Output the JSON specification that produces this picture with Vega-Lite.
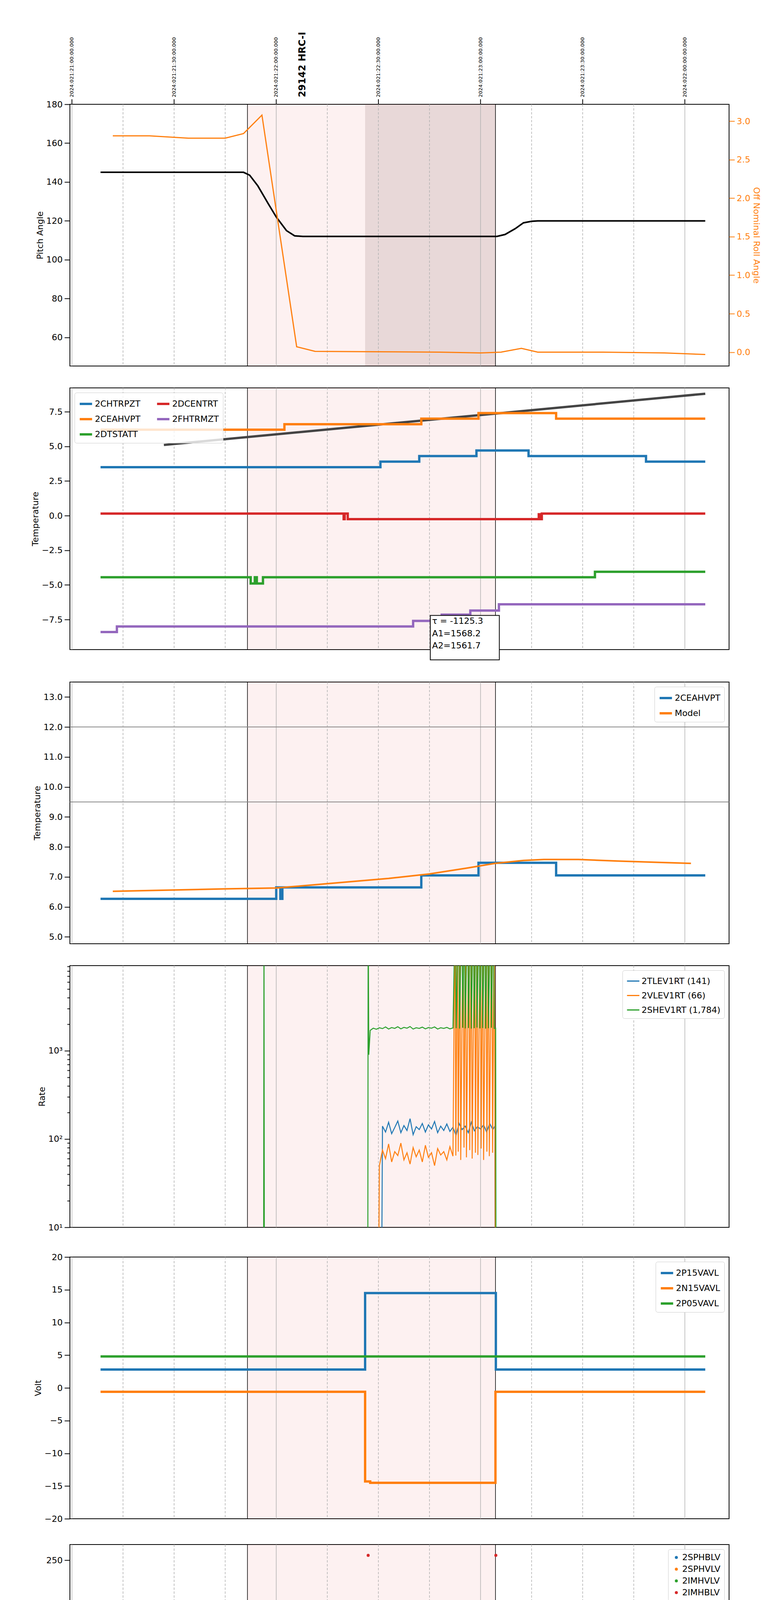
{
"$schema":"https://vega.github.io/schema/vega-lite/v6.json",
"background":"white",
"padding":{"left":78,"top":80,"right":5,"bottom":5},
"spacing":52,
"config":{
 "view":{"stroke":"black","strokeWidth":2},
 "font":"DejaVu Sans",
 "axis":{"labelFont":"DejaVu Sans","labelFontSize":22,"labelColor":"black","tickColor":"black","tickWidth":2,"tickSize":14,"domain":false,"titleFont":"DejaVu Sans","titleFontSize":22,"titleFontWeight":"normal","titleColor":"black","grid":false,"labelPadding":5},
 "legend":{"orient":"top-right","offset":12,"fillColor":"white","strokeColor":"#cccccc","padding":10,"cornerRadius":5,"labelFont":"DejaVu Sans","labelFontSize":22,"symbolType":"stroke","symbolStrokeWidth":6,"symbolSize":1000,"rowPadding":8,"labelLimit":400}
},
"datasets":{
 "shade":[{"a":16.859,"b":18.073}],
 "vl":[{"a":16.859},{"a":18.073}],
 "gray":[{"a":17.435,"b":18.073}],
 "gh":[{"a":16},{"a":17},{"a":18},{"a":19}],
 "gq":[{"a":16.25},{"a":16.5},{"a":16.75},{"a":17.25},{"a":17.5},{"a":17.75},{"a":18.25},{"a":18.5},{"a":18.75}],
 "toplab":[{"t":16,"txt":"2024:021:21:00:00.000"},{"t":16.5,"txt":"2024:021:21:30:00.000"},{"t":17,"txt":"2024:021:22:00:00.000"},{"t":17.5,"txt":"2024:021:22:30:00.000"},{"t":18,"txt":"2024:021:23:00:00.000"},{"t":18.5,"txt":"2024:021:23:30:00.000"},{"t":19,"txt":"2024:022:00:00:00.000"}]
},
"resolve":{"scale":{"y":"independent","color":"independent"},"legend":{"color":"independent"}},
"vconcat":[
{
 "width":1688,"height":670,
 "resolve":{"scale":{"y":"independent"}},
 "layer":[
  {"data":{"name":"shade"},"mark":{"type":"rect","fill":"#e05050","opacity":0.08},
   "encoding":{"x":{"field":"a","type":"quantitative","scale":{"domain":[15.99,19.2165],"nice":false,"zero":false},
     "axis":{"values":[16,17,18,19],"labels":false,"tickSize":16,"title":null}},
    "x2":{"field":"b"}}},
  {"data":{"name":"gray"},"mark":{"type":"rect","fill":"#7a5a5a","opacity":0.16},
   "encoding":{"x":{"field":"a","type":"quantitative","axis":null},"x2":{"field":"b"}}},
  {"data":{"name":"gh"},"mark":{"type":"rule","color":"#b0b0b0","strokeWidth":1.5},"encoding":{"x":{"field":"a","type":"quantitative","axis":null}}},
  {"data":{"name":"gq"},"mark":{"type":"rule","color":"#b0b0b0","strokeWidth":1.5,"strokeDash":[6,4]},"encoding":{"x":{"field":"a","type":"quantitative","axis":null}}},
  {"data":{"name":"vl"},"mark":{"type":"rule","color":"black","strokeWidth":1.5},
   "encoding":{"x":{"field":"a","type":"quantitative","axis":null}}},
  {"layer":[
   {"data":{"values":[
     {"t":16.14,"p":145},{"t":16.84,"p":145},{"t":16.87,"p":143.5},{"t":16.91,"p":138},{"t":16.96,"p":129},{"t":17.0,"p":122},{"t":17.05,"p":115},{"t":17.09,"p":112.3},{"t":17.13,"p":112},{"t":18.08,"p":112},{"t":18.12,"p":113},{"t":18.17,"p":116},{"t":18.21,"p":119},{"t":18.25,"p":119.8},{"t":18.28,"p":120},{"t":19.1,"p":120}]},
    "mark":{"type":"line","color":"black","strokeWidth":4},
    "encoding":{"x":{"field":"t","type":"quantitative","axis":null},
     "y":{"field":"p","type":"quantitative","scale":{"domain":[45.3,180],"nice":false,"zero":false},"axis":{"title":"Pitch Angle","values":[60,80,100,120,140,160,180]}}}},
   {"data":{"name":"toplab"},
    "mark":{"type":"rule","color":"black","strokeWidth":2,"clip":false},
    "encoding":{"x":{"field":"t","type":"quantitative","axis":null},"y":{"datum":180},"y2":{"datum":182.6}}},
   {"data":{"name":"toplab"},
    "mark":{"type":"text","angle":270,"align":"left","baseline":"middle","font":"DejaVu Sans","fontSize":13,"clip":false},
    "encoding":{"x":{"field":"t","type":"quantitative","axis":null},"y":{"datum":183.6},"text":{"field":"txt"}}},
   {"data":{"values":[{"t":17.13,"p":183.6,"txt":"29142 HRC-I"}]},
    "mark":{"type":"text","angle":270,"align":"left","baseline":"middle","font":"DejaVu Sans","fontWeight":"bold","fontSize":24,"clip":false},
    "encoding":{"x":{"field":"t","type":"quantitative","axis":null},"y":{"field":"p","type":"quantitative"},"text":{"field":"txt"}}}
  ]},
  {"data":{"values":[
    {"t":16.2,"r":2.81},{"t":16.38,"r":2.81},{"t":16.57,"r":2.78},{"t":16.75,"r":2.78},{"t":16.84,"r":2.84},{"t":16.93,"r":3.08},{"t":17.1,"r":0.07},{"t":17.19,"r":0.01},{"t":17.5,"r":0.005},{"t":17.8,"r":0.0},{"t":18.0,"r":-0.01},{"t":18.1,"r":0.0},{"t":18.2,"r":0.05},{"t":18.28,"r":0.0},{"t":18.6,"r":0.0},{"t":18.9,"r":-0.01},{"t":19.1,"r":-0.03}]},
   "mark":{"type":"line","color":"#ff7f0e","strokeWidth":3},
   "encoding":{"x":{"field":"t","type":"quantitative","axis":null},
    "y":{"field":"r","type":"quantitative","scale":{"domain":[-0.18,3.22],"nice":false,"zero":false},"axis":{"orient":"right","title":"Off Nominal Roll Angle","titleColor":"#ff7f0e","labelColor":"#ff7f0e","tickColor":"#ff7f0e","values":[0,0.5,1,1.5,2,2.5,3],"format":".1f"}}}}
 ]
},
{
 "width":1688,"height":670,
 "layer":[
  {"data":{"name":"shade"},"mark":{"type":"rect","fill":"#e05050","opacity":0.08},
   "encoding":{"x":{"field":"a","type":"quantitative","scale":{"domain":[15.99,19.2165],"nice":false,"zero":false},
     "axis":{"values":[16,17,18,19],"labels":false,"tickSize":16,"title":null}},
    "x2":{"field":"b"}}},
  {"data":{"name":"gh"},"mark":{"type":"rule","color":"#b0b0b0","strokeWidth":1.5},"encoding":{"x":{"field":"a","type":"quantitative","axis":null}}},
  {"data":{"name":"gq"},"mark":{"type":"rule","color":"#b0b0b0","strokeWidth":1.5,"strokeDash":[6,4]},"encoding":{"x":{"field":"a","type":"quantitative","axis":null}}},
  {"data":{"name":"vl"},"mark":{"type":"rule","color":"black","strokeWidth":1.5},
   "encoding":{"x":{"field":"a","type":"quantitative","axis":null}}},
  {"data":{"values":[{"t":16.45,"v":5.1},{"t":19.1,"v":8.8}]},
   "mark":{"type":"line","color":"#444444","strokeWidth":6},
   "encoding":{"x":{"field":"t","type":"quantitative","axis":null},"y":{"field":"v","type":"quantitative"}}},
  {"data":{"values":[
    {"t":16.14,"v":3.5,"s":"2CHTRPZT"},{"t":17.51,"v":3.9,"s":"2CHTRPZT"},{"t":17.7,"v":4.3,"s":"2CHTRPZT"},{"t":17.98,"v":4.7,"s":"2CHTRPZT"},{"t":18.235,"v":4.3,"s":"2CHTRPZT"},{"t":18.81,"v":3.9,"s":"2CHTRPZT"},{"t":19.1,"v":3.9,"s":"2CHTRPZT"},
    {"t":16.14,"v":6.2,"s":"2CEAHVPT"},{"t":17.04,"v":6.6,"s":"2CEAHVPT"},{"t":17.71,"v":7.0,"s":"2CEAHVPT"},{"t":17.99,"v":7.4,"s":"2CEAHVPT"},{"t":18.37,"v":7.0,"s":"2CEAHVPT"},{"t":19.1,"v":7.0,"s":"2CEAHVPT"},
    {"t":16.14,"v":-4.45,"s":"2DTSTATT"},{"t":16.875,"v":-4.9,"s":"2DTSTATT"},{"t":16.895,"v":-4.45,"s":"2DTSTATT"},{"t":16.905,"v":-4.9,"s":"2DTSTATT"},{"t":16.935,"v":-4.45,"s":"2DTSTATT"},{"t":18.56,"v":-4.05,"s":"2DTSTATT"},{"t":19.1,"v":-4.05,"s":"2DTSTATT"},
    {"t":16.14,"v":0.15,"s":"2DCENTRT"},{"t":17.33,"v":-0.25,"s":"2DCENTRT"},{"t":17.335,"v":0.15,"s":"2DCENTRT"},{"t":17.35,"v":-0.25,"s":"2DCENTRT"},{"t":18.285,"v":0.1,"s":"2DCENTRT"},{"t":18.29,"v":-0.25,"s":"2DCENTRT"},{"t":18.3,"v":0.15,"s":"2DCENTRT"},{"t":19.1,"v":0.15,"s":"2DCENTRT"},
    {"t":16.14,"v":-8.4,"s":"2FHTRMZT"},{"t":16.22,"v":-8.0,"s":"2FHTRMZT"},{"t":17.67,"v":-7.6,"s":"2FHTRMZT"},{"t":17.81,"v":-7.15,"s":"2FHTRMZT"},{"t":17.95,"v":-6.85,"s":"2FHTRMZT"},{"t":18.09,"v":-6.4,"s":"2FHTRMZT"},{"t":19.1,"v":-6.4,"s":"2FHTRMZT"}]},
   "mark":{"type":"line","interpolate":"step-after","strokeWidth":6},
   "encoding":{"x":{"field":"t","type":"quantitative","axis":null},
    "y":{"field":"v","type":"quantitative","scale":{"domain":[-9.67,9.22],"nice":false,"zero":false},"axis":{"title":"Temperature","values":[-7.5,-5,-2.5,0,2.5,5,7.5],"format":".1f"}},
    "color":{"field":"s","type":"nominal","title":null,"scale":{"domain":["2CHTRPZT","2CEAHVPT","2DTSTATT","2DCENTRT","2FHTRMZT"],"range":["#1f77b4","#ff7f0e","#2ca02c","#d62728","#9467bd"]},
     "legend":{"orient":"top-left","columns":2,"columnPadding":30,"fillColor":"rgba(255,255,255,0.8)"}}}},
  {"data":{"values":[{"t":17.754,"t2":18.092,"y":-7.2,"y2":-10.41}]},
   "mark":{"type":"rect","fill":"white","stroke":"black","strokeWidth":2,"clip":false},
   "encoding":{"x":{"field":"t","type":"quantitative","axis":null},"x2":{"field":"t2"},"y":{"field":"y","type":"quantitative"},"y2":{"field":"y2"}}},
  {"data":{"values":[{"t":17.763,"y":-7.62,"txt":"τ = -1125.3"},{"t":17.763,"y":-8.5,"txt":"A1=1568.2"},{"t":17.763,"y":-9.38,"txt":"A2=1561.7"}]},
   "mark":{"type":"text","align":"left","baseline":"middle","fontSize":22,"font":"DejaVu Sans","clip":false},
   "encoding":{"x":{"field":"t","type":"quantitative","axis":null},"y":{"field":"y","type":"quantitative"},"text":{"field":"txt"}}}
 ]
},
{
 "width":1688,"height":670,
 "layer":[
  {"data":{"name":"shade"},"mark":{"type":"rect","fill":"#e05050","opacity":0.08},
   "encoding":{"x":{"field":"a","type":"quantitative","scale":{"domain":[15.99,19.2165],"nice":false,"zero":false},
     "axis":{"values":[16,17,18,19],"labels":false,"tickSize":16,"title":null}},
    "x2":{"field":"b"}}},
  {"data":{"name":"gh"},"mark":{"type":"rule","color":"#b0b0b0","strokeWidth":1.5},"encoding":{"x":{"field":"a","type":"quantitative","axis":null}}},
  {"data":{"name":"gq"},"mark":{"type":"rule","color":"#b0b0b0","strokeWidth":1.5,"strokeDash":[6,4]},"encoding":{"x":{"field":"a","type":"quantitative","axis":null}}},
  {"data":{"name":"vl"},"mark":{"type":"rule","color":"black","strokeWidth":1.5},
   "encoding":{"x":{"field":"a","type":"quantitative","axis":null}}},
  {"data":{"values":[{"h":12,"c":"a"},{"h":9.5,"c":"b"}]},"mark":{"type":"rule","color":"#888888","strokeWidth":2},
   "encoding":{"y":{"field":"h","type":"quantitative"}}},
  {"data":{"values":[
    {"t":16.14,"v":6.27,"s":"2CEAHVPT"},{"t":17.0,"v":6.65,"s":"2CEAHVPT"},{"t":17.02,"v":6.27,"s":"2CEAHVPT"},{"t":17.03,"v":6.65,"s":"2CEAHVPT"},{"t":17.71,"v":7.05,"s":"2CEAHVPT"},{"t":17.99,"v":7.47,"s":"2CEAHVPT"},{"t":18.37,"v":7.05,"s":"2CEAHVPT"},{"t":19.1,"v":7.05,"s":"2CEAHVPT"}]},
   "mark":{"type":"line","interpolate":"step-after","strokeWidth":6},
   "encoding":{"x":{"field":"t","type":"quantitative","axis":null},
    "y":{"field":"v","type":"quantitative","scale":{"domain":[4.77,13.5],"nice":false,"zero":false},"axis":{"title":"Temperature","values":[5,6,7,8,9,10,11,12,13]}},
    "color":{"field":"s","type":"nominal","title":null,"scale":{"domain":["2CEAHVPT","Model"],"range":["#1f77b4","#ff7f0e"]}}}},
  {"data":{"values":[
    {"t":16.2,"v":6.52,"s":"Model"},{"t":16.75,"v":6.6,"s":"Model"},{"t":17.0,"v":6.63,"s":"Model"},{"t":17.21,"v":6.75,"s":"Model"},{"t":17.55,"v":6.95,"s":"Model"},{"t":17.75,"v":7.1,"s":"Model"},{"t":17.94,"v":7.3,"s":"Model"},{"t":18.07,"v":7.45,"s":"Model"},{"t":18.21,"v":7.55,"s":"Model"},{"t":18.31,"v":7.58,"s":"Model"},{"t":18.48,"v":7.58,"s":"Model"},{"t":18.67,"v":7.53,"s":"Model"},{"t":18.89,"v":7.48,"s":"Model"},{"t":19.03,"v":7.45,"s":"Model"}]},
   "mark":{"type":"line","strokeWidth":4},
   "encoding":{"x":{"field":"t","type":"quantitative","axis":null},"y":{"field":"v","type":"quantitative"},
    "color":{"field":"s","type":"nominal","title":null}}}
 ]
},
{
 "width":1688,"height":670,
 "layer":[
  {"data":{"name":"shade"},"mark":{"type":"rect","fill":"#e05050","opacity":0.08},
   "encoding":{"x":{"field":"a","type":"quantitative","scale":{"domain":[15.99,19.2165],"nice":false,"zero":false},
     "axis":{"values":[16,17,18,19],"labels":false,"tickSize":16,"title":null}},
    "x2":{"field":"b"}}},
  {"data":{"name":"gh"},"mark":{"type":"rule","color":"#b0b0b0","strokeWidth":1.5},"encoding":{"x":{"field":"a","type":"quantitative","axis":null}}},
  {"data":{"name":"gq"},"mark":{"type":"rule","color":"#b0b0b0","strokeWidth":1.5,"strokeDash":[6,4]},"encoding":{"x":{"field":"a","type":"quantitative","axis":null}}},
  {"data":{"name":"vl"},"mark":{"type":"rule","color":"black","strokeWidth":1.5},
   "encoding":{"x":{"field":"a","type":"quantitative","axis":null}}},
  {"data":{"values":[
    {"t":17.515,"v":1,"s":"2TLEV1RT (141)"},{"t":17.52,"v":140,"s":"2TLEV1RT (141)"},{"t":17.535,"v":120,"s":"2TLEV1RT (141)"},{"t":17.55,"v":155,"s":"2TLEV1RT (141)"},{"t":17.565,"v":115,"s":"2TLEV1RT (141)"},{"t":17.58,"v":135,"s":"2TLEV1RT (141)"},{"t":17.595,"v":160,"s":"2TLEV1RT (141)"},{"t":17.61,"v":118,"s":"2TLEV1RT (141)"},{"t":17.625,"v":142,"s":"2TLEV1RT (141)"},{"t":17.64,"v":125,"s":"2TLEV1RT (141)"},{"t":17.655,"v":170,"s":"2TLEV1RT (141)"},{"t":17.67,"v":112,"s":"2TLEV1RT (141)"},{"t":17.685,"v":138,"s":"2TLEV1RT (141)"},{"t":17.7,"v":128,"s":"2TLEV1RT (141)"},{"t":17.715,"v":150,"s":"2TLEV1RT (141)"},{"t":17.73,"v":120,"s":"2TLEV1RT (141)"},{"t":17.745,"v":145,"s":"2TLEV1RT (141)"},{"t":17.76,"v":130,"s":"2TLEV1RT (141)"},{"t":17.775,"v":158,"s":"2TLEV1RT (141)"},{"t":17.79,"v":118,"s":"2TLEV1RT (141)"},{"t":17.805,"v":140,"s":"2TLEV1RT (141)"},{"t":17.82,"v":125,"s":"2TLEV1RT (141)"},{"t":17.835,"v":148,"s":"2TLEV1RT (141)"},{"t":17.85,"v":122,"s":"2TLEV1RT (141)"},{"t":17.865,"v":136,"s":"2TLEV1RT (141)"},{"t":17.88,"v":110,"s":"2TLEV1RT (141)"},{"t":17.895,"v":150,"s":"2TLEV1RT (141)"},{"t":17.91,"v":128,"s":"2TLEV1RT (141)"},{"t":17.925,"v":140,"s":"2TLEV1RT (141)"},{"t":17.94,"v":118,"s":"2TLEV1RT (141)"},{"t":17.955,"v":155,"s":"2TLEV1RT (141)"},{"t":17.97,"v":124,"s":"2TLEV1RT (141)"},{"t":17.985,"v":138,"s":"2TLEV1RT (141)"},{"t":18.0,"v":130,"s":"2TLEV1RT (141)"},{"t":18.015,"v":145,"s":"2TLEV1RT (141)"},{"t":18.03,"v":120,"s":"2TLEV1RT (141)"},{"t":18.045,"v":150,"s":"2TLEV1RT (141)"},{"t":18.06,"v":128,"s":"2TLEV1RT (141)"},{"t":18.07,"v":140,"s":"2TLEV1RT (141)"},{"t":18.072,"v":1,"s":"2TLEV1RT (141)"},
    {"t":17.5,"v":1,"s":"2VLEV1RT (66)"},{"t":17.505,"v":50,"s":"2VLEV1RT (66)"},{"t":17.52,"v":75,"s":"2VLEV1RT (66)"},{"t":17.535,"v":60,"s":"2VLEV1RT (66)"},{"t":17.55,"v":88,"s":"2VLEV1RT (66)"},{"t":17.565,"v":55,"s":"2VLEV1RT (66)"},{"t":17.58,"v":72,"s":"2VLEV1RT (66)"},{"t":17.595,"v":65,"s":"2VLEV1RT (66)"},{"t":17.61,"v":90,"s":"2VLEV1RT (66)"},{"t":17.625,"v":58,"s":"2VLEV1RT (66)"},{"t":17.64,"v":70,"s":"2VLEV1RT (66)"},{"t":17.655,"v":52,"s":"2VLEV1RT (66)"},{"t":17.67,"v":80,"s":"2VLEV1RT (66)"},{"t":17.685,"v":63,"s":"2VLEV1RT (66)"},{"t":17.7,"v":75,"s":"2VLEV1RT (66)"},{"t":17.715,"v":55,"s":"2VLEV1RT (66)"},{"t":17.73,"v":85,"s":"2VLEV1RT (66)"},{"t":17.745,"v":62,"s":"2VLEV1RT (66)"},{"t":17.76,"v":70,"s":"2VLEV1RT (66)"},{"t":17.775,"v":50,"s":"2VLEV1RT (66)"},{"t":17.79,"v":78,"s":"2VLEV1RT (66)"},{"t":17.805,"v":66,"s":"2VLEV1RT (66)"},{"t":17.82,"v":72,"s":"2VLEV1RT (66)"},{"t":17.835,"v":58,"s":"2VLEV1RT (66)"},{"t":17.85,"v":82,"s":"2VLEV1RT (66)"},{"t":17.865,"v":64,"s":"2VLEV1RT (66)"},{"t":17.875,"v":50000,"s":"2VLEV1RT (66)"},{"t":17.879,"v":65,"s":"2VLEV1RT (66)"},{"t":17.887,"v":50000,"s":"2VLEV1RT (66)"},{"t":17.891,"v":72,"s":"2VLEV1RT (66)"},{"t":17.899,"v":50000,"s":"2VLEV1RT (66)"},{"t":17.903,"v":58,"s":"2VLEV1RT (66)"},{"t":17.915,"v":50000,"s":"2VLEV1RT (66)"},{"t":17.919,"v":80,"s":"2VLEV1RT (66)"},{"t":17.927,"v":50000,"s":"2VLEV1RT (66)"},{"t":17.931,"v":62,"s":"2VLEV1RT (66)"},{"t":17.943,"v":50000,"s":"2VLEV1RT (66)"},{"t":17.947,"v":75,"s":"2VLEV1RT (66)"},{"t":17.955,"v":50000,"s":"2VLEV1RT (66)"},{"t":17.959,"v":60,"s":"2VLEV1RT (66)"},{"t":17.971,"v":50000,"s":"2VLEV1RT (66)"},{"t":17.975,"v":70,"s":"2VLEV1RT (66)"},{"t":17.983,"v":50000,"s":"2VLEV1RT (66)"},{"t":17.987,"v":66,"s":"2VLEV1RT (66)"},{"t":17.999,"v":50000,"s":"2VLEV1RT (66)"},{"t":18.003,"v":78,"s":"2VLEV1RT (66)"},{"t":18.011,"v":50000,"s":"2VLEV1RT (66)"},{"t":18.015,"v":58,"s":"2VLEV1RT (66)"},{"t":18.027,"v":50000,"s":"2VLEV1RT (66)"},{"t":18.031,"v":72,"s":"2VLEV1RT (66)"},{"t":18.039,"v":50000,"s":"2VLEV1RT (66)"},{"t":18.043,"v":64,"s":"2VLEV1RT (66)"},{"t":18.055,"v":50000,"s":"2VLEV1RT (66)"},{"t":18.059,"v":70,"s":"2VLEV1RT (66)"},{"t":18.067,"v":50000,"s":"2VLEV1RT (66)"},{"t":18.071,"v":60,"s":"2VLEV1RT (66)"},{"t":18.073,"v":1,"s":"2VLEV1RT (66)"},
    {"t":16.938,"v":1,"s":"2SHEV1RT (1,784)"},{"t":16.94,"v":50000,"s":"2SHEV1RT (1,784)"},{"t":16.942,"v":1,"s":"2SHEV1RT (1,784)"},{"t":17.448,"v":1,"s":"2SHEV1RT (1,784)"},{"t":17.45,"v":50000,"s":"2SHEV1RT (1,784)"},{"t":17.453,"v":900,"s":"2SHEV1RT (1,784)"},{"t":17.46,"v":1700,"s":"2SHEV1RT (1,784)"},{"t":17.475,"v":1800,"s":"2SHEV1RT (1,784)"},{"t":17.49,"v":1750,"s":"2SHEV1RT (1,784)"},{"t":17.505,"v":1820,"s":"2SHEV1RT (1,784)"},{"t":17.52,"v":1780,"s":"2SHEV1RT (1,784)"},{"t":17.535,"v":1860,"s":"2SHEV1RT (1,784)"},{"t":17.55,"v":1760,"s":"2SHEV1RT (1,784)"},{"t":17.565,"v":1830,"s":"2SHEV1RT (1,784)"},{"t":17.58,"v":1790,"s":"2SHEV1RT (1,784)"},{"t":17.595,"v":1870,"s":"2SHEV1RT (1,784)"},{"t":17.61,"v":1770,"s":"2SHEV1RT (1,784)"},{"t":17.625,"v":1840,"s":"2SHEV1RT (1,784)"},{"t":17.64,"v":1800,"s":"2SHEV1RT (1,784)"},{"t":17.655,"v":1880,"s":"2SHEV1RT (1,784)"},{"t":17.67,"v":1760,"s":"2SHEV1RT (1,784)"},{"t":17.685,"v":1820,"s":"2SHEV1RT (1,784)"},{"t":17.7,"v":1790,"s":"2SHEV1RT (1,784)"},{"t":17.715,"v":1850,"s":"2SHEV1RT (1,784)"},{"t":17.73,"v":1770,"s":"2SHEV1RT (1,784)"},{"t":17.745,"v":1830,"s":"2SHEV1RT (1,784)"},{"t":17.76,"v":1800,"s":"2SHEV1RT (1,784)"},{"t":17.775,"v":1860,"s":"2SHEV1RT (1,784)"},{"t":17.79,"v":1760,"s":"2SHEV1RT (1,784)"},{"t":17.805,"v":1820,"s":"2SHEV1RT (1,784)"},{"t":17.82,"v":1790,"s":"2SHEV1RT (1,784)"},{"t":17.835,"v":1840,"s":"2SHEV1RT (1,784)"},{"t":17.85,"v":1770,"s":"2SHEV1RT (1,784)"},{"t":17.865,"v":1810,"s":"2SHEV1RT (1,784)"},{"t":17.877,"v":50000,"s":"2SHEV1RT (1,784)"},{"t":17.881,"v":1800,"s":"2SHEV1RT (1,784)"},{"t":17.893,"v":50000,"s":"2SHEV1RT (1,784)"},{"t":17.897,"v":1780,"s":"2SHEV1RT (1,784)"},{"t":17.909,"v":50000,"s":"2SHEV1RT (1,784)"},{"t":17.913,"v":1820,"s":"2SHEV1RT (1,784)"},{"t":17.921,"v":50000,"s":"2SHEV1RT (1,784)"},{"t":17.925,"v":1790,"s":"2SHEV1RT (1,784)"},{"t":17.937,"v":50000,"s":"2SHEV1RT (1,784)"},{"t":17.941,"v":1810,"s":"2SHEV1RT (1,784)"},{"t":17.951,"v":50000,"s":"2SHEV1RT (1,784)"},{"t":17.955,"v":1780,"s":"2SHEV1RT (1,784)"},{"t":17.965,"v":50000,"s":"2SHEV1RT (1,784)"},{"t":17.969,"v":1800,"s":"2SHEV1RT (1,784)"},{"t":17.979,"v":50000,"s":"2SHEV1RT (1,784)"},{"t":17.983,"v":1830,"s":"2SHEV1RT (1,784)"},{"t":17.993,"v":50000,"s":"2SHEV1RT (1,784)"},{"t":17.997,"v":1790,"s":"2SHEV1RT (1,784)"},{"t":18.007,"v":50000,"s":"2SHEV1RT (1,784)"},{"t":18.011,"v":1810,"s":"2SHEV1RT (1,784)"},{"t":18.021,"v":50000,"s":"2SHEV1RT (1,784)"},{"t":18.025,"v":1780,"s":"2SHEV1RT (1,784)"},{"t":18.035,"v":50000,"s":"2SHEV1RT (1,784)"},{"t":18.039,"v":1800,"s":"2SHEV1RT (1,784)"},{"t":18.049,"v":50000,"s":"2SHEV1RT (1,784)"},{"t":18.053,"v":1820,"s":"2SHEV1RT (1,784)"},{"t":18.063,"v":50000,"s":"2SHEV1RT (1,784)"},{"t":18.067,"v":1790,"s":"2SHEV1RT (1,784)"},{"t":18.074,"v":1800,"s":"2SHEV1RT (1,784)"},{"t":18.076,"v":1,"s":"2SHEV1RT (1,784)"}]},
   "mark":{"type":"line","strokeWidth":2.5,"clip":true},
   "encoding":{"x":{"field":"t","type":"quantitative","axis":null},
    "y":{"field":"v","type":"quantitative","scale":{"type":"log","domain":[10,9200],"nice":false},"axis":{"title":"Rate","values":[10,20,30,40,50,60,70,80,90,100,200,300,400,500,600,700,800,900,1000,2000,3000,4000,5000,6000,7000,8000,9000],"labelExpr":"datum.value==10?'10¹':datum.value==100?'10²':datum.value==1000?'10³':''","tickSize":{"condition":{"test":"datum.value==10||datum.value==100||datum.value==1000","value":14},"value":7}}},
    "color":{"field":"s","type":"nominal","title":null,"sort":null,"scale":{"domain":["2TLEV1RT (141)","2VLEV1RT (66)","2SHEV1RT (1,784)"],"range":["#1f77b4","#ff7f0e","#2ca02c"]},"legend":{"symbolStrokeWidth":3}}}}
 ]
},
{
 "width":1688,"height":670,
 "layer":[
  {"data":{"name":"shade"},"mark":{"type":"rect","fill":"#e05050","opacity":0.08},
   "encoding":{"x":{"field":"a","type":"quantitative","scale":{"domain":[15.99,19.2165],"nice":false,"zero":false},
     "axis":{"values":[16,17,18,19],"labels":false,"tickSize":16,"title":null}},
    "x2":{"field":"b"}}},
  {"data":{"name":"gh"},"mark":{"type":"rule","color":"#b0b0b0","strokeWidth":1.5},"encoding":{"x":{"field":"a","type":"quantitative","axis":null}}},
  {"data":{"name":"gq"},"mark":{"type":"rule","color":"#b0b0b0","strokeWidth":1.5,"strokeDash":[6,4]},"encoding":{"x":{"field":"a","type":"quantitative","axis":null}}},
  {"data":{"name":"vl"},"mark":{"type":"rule","color":"black","strokeWidth":1.5},
   "encoding":{"x":{"field":"a","type":"quantitative","axis":null}}},
  {"data":{"values":[
    {"t":16.14,"v":2.8,"s":"2P15VAVL"},{"t":17.435,"v":14.5,"s":"2P15VAVL"},{"t":18.075,"v":2.8,"s":"2P15VAVL"},{"t":19.1,"v":2.8,"s":"2P15VAVL"},
    {"t":16.14,"v":-0.6,"s":"2N15VAVL"},{"t":17.435,"v":-14.3,"s":"2N15VAVL"},{"t":17.46,"v":-14.5,"s":"2N15VAVL"},{"t":18.073,"v":-0.6,"s":"2N15VAVL"},{"t":19.1,"v":-0.6,"s":"2N15VAVL"},
    {"t":16.14,"v":4.8,"s":"2P05VAVL"},{"t":19.1,"v":4.8,"s":"2P05VAVL"}]},
   "mark":{"type":"line","interpolate":"step-after","strokeWidth":6},
   "encoding":{"x":{"field":"t","type":"quantitative","axis":null},
    "y":{"field":"v","type":"quantitative","scale":{"domain":[-20,20],"nice":false,"zero":false},"axis":{"title":"Volt","values":[-20,-15,-10,-5,0,5,10,15,20]}},
    "color":{"field":"s","type":"nominal","title":null,"scale":{"domain":["2P15VAVL","2N15VAVL","2P05VAVL"],"range":["#1f77b4","#ff7f0e","#2ca02c"]}}}}
 ]
},
{
 "width":1688,"height":670,
 "layer":[
  {"data":{"name":"shade"},"mark":{"type":"rect","fill":"#e05050","opacity":0.08},
   "encoding":{"x":{"field":"a","type":"quantitative","scale":{"domain":[15.99,19.2165],"nice":false,"zero":false},
     "axis":{"values":[16,17,18,19],"labels":false,"tickSize":16,"title":null}},
    "x2":{"field":"b"}}},
  {"data":{"name":"gh"},"mark":{"type":"rule","color":"#b0b0b0","strokeWidth":1.5},"encoding":{"x":{"field":"a","type":"quantitative","axis":null}}},
  {"data":{"name":"gq"},"mark":{"type":"rule","color":"#b0b0b0","strokeWidth":1.5,"strokeDash":[6,4]},"encoding":{"x":{"field":"a","type":"quantitative","axis":null}}},
  {"data":{"name":"vl"},"mark":{"type":"rule","color":"black","strokeWidth":1.5},
   "encoding":{"x":{"field":"a","type":"quantitative","axis":null}}},
  {"data":{"values":[
    {"t":17.49,"v":79,"s":"2SPHBLV"},{"t":17.8,"v":79,"s":"2SPHBLV"},{"t":17.49,"v":79,"s":"2SPHVLV"},{"t":17.8,"v":79,"s":"2SPHVLV"},
    {"t":17.462,"v":100,"s":"2IMHVLV"},{"t":17.467,"v":96,"s":"2IMHVLV"},{"t":17.472,"v":95,"s":"2IMHVLV"},{"t":17.478,"v":90,"s":"2IMHVLV"},{"t":17.483,"v":86,"s":"2IMHVLV"},{"t":17.488,"v":82,"s":"2IMHVLV"},{"t":17.493,"v":79,"s":"2IMHVLV"},
    {"t":17.50,"v":79,"s":"2IMHVLV"},{"t":17.51,"v":79,"s":"2IMHVLV"},{"t":17.52,"v":79,"s":"2IMHVLV"},{"t":17.53,"v":79,"s":"2IMHVLV"},{"t":17.54,"v":79,"s":"2IMHVLV"},{"t":17.55,"v":79,"s":"2IMHVLV"},{"t":17.56,"v":79,"s":"2IMHVLV"},{"t":17.57,"v":79,"s":"2IMHVLV"},{"t":17.58,"v":79,"s":"2IMHVLV"},{"t":17.59,"v":79,"s":"2IMHVLV"},{"t":17.60,"v":79,"s":"2IMHVLV"},{"t":17.61,"v":79,"s":"2IMHVLV"},{"t":17.62,"v":79,"s":"2IMHVLV"},{"t":17.63,"v":79,"s":"2IMHVLV"},{"t":17.64,"v":79,"s":"2IMHVLV"},{"t":17.65,"v":79,"s":"2IMHVLV"},{"t":17.66,"v":79,"s":"2IMHVLV"},{"t":17.67,"v":79,"s":"2IMHVLV"},{"t":17.68,"v":79,"s":"2IMHVLV"},{"t":17.69,"v":79,"s":"2IMHVLV"},{"t":17.70,"v":79,"s":"2IMHVLV"},{"t":17.71,"v":79,"s":"2IMHVLV"},{"t":17.72,"v":79,"s":"2IMHVLV"},{"t":17.73,"v":79,"s":"2IMHVLV"},{"t":17.74,"v":79,"s":"2IMHVLV"},{"t":17.75,"v":79,"s":"2IMHVLV"},{"t":17.76,"v":79,"s":"2IMHVLV"},{"t":17.77,"v":79,"s":"2IMHVLV"},{"t":17.78,"v":79,"s":"2IMHVLV"},{"t":17.79,"v":79,"s":"2IMHVLV"},{"t":17.80,"v":79,"s":"2IMHVLV"},{"t":17.81,"v":79,"s":"2IMHVLV"},{"t":17.82,"v":79,"s":"2IMHVLV"},{"t":17.83,"v":79,"s":"2IMHVLV"},{"t":17.84,"v":79,"s":"2IMHVLV"},{"t":17.85,"v":79,"s":"2IMHVLV"},{"t":17.86,"v":79,"s":"2IMHVLV"},{"t":17.87,"v":79,"s":"2IMHVLV"},{"t":17.88,"v":79,"s":"2IMHVLV"},{"t":17.883,"v":127,"s":"2IMHVLV"},{"t":17.89,"v":79,"s":"2IMHVLV"},{"t":17.90,"v":79,"s":"2IMHVLV"},{"t":17.91,"v":79,"s":"2IMHVLV"},{"t":17.92,"v":79,"s":"2IMHVLV"},{"t":17.93,"v":79,"s":"2IMHVLV"},{"t":17.94,"v":79,"s":"2IMHVLV"},{"t":17.95,"v":79,"s":"2IMHVLV"},{"t":17.96,"v":79,"s":"2IMHVLV"},{"t":17.97,"v":79,"s":"2IMHVLV"},{"t":17.98,"v":79,"s":"2IMHVLV"},{"t":17.99,"v":79,"s":"2IMHVLV"},{"t":18.00,"v":79,"s":"2IMHVLV"},{"t":18.005,"v":127,"s":"2IMHVLV"},{"t":18.01,"v":79,"s":"2IMHVLV"},{"t":18.02,"v":79,"s":"2IMHVLV"},{"t":18.03,"v":79,"s":"2IMHVLV"},{"t":18.04,"v":79,"s":"2IMHVLV"},{"t":18.05,"v":79,"s":"2IMHVLV"},{"t":18.06,"v":79,"s":"2IMHVLV"},{"t":18.07,"v":79,"s":"2IMHVLV"},
    {"t":17.45,"v":255,"s":"2IMHBLV"},{"t":17.457,"v":127,"s":"2IMHBLV"},{"t":17.458,"v":125,"s":"2IMHBLV"},{"t":17.459,"v":119,"s":"2IMHBLV"},{"t":17.462,"v":105,"s":"2IMHBLV"},{"t":17.466,"v":105,"s":"2IMHBLV"},{"t":17.47,"v":101,"s":"2IMHBLV"},{"t":17.475,"v":101,"s":"2IMHBLV"},{"t":17.48,"v":97,"s":"2IMHBLV"},{"t":17.485,"v":93,"s":"2IMHBLV"},{"t":17.49,"v":89,"s":"2IMHBLV"},{"t":17.495,"v":86,"s":"2IMHBLV"},
    {"t":17.50,"v":86,"s":"2IMHBLV"},{"t":17.51,"v":86,"s":"2IMHBLV"},{"t":17.52,"v":86,"s":"2IMHBLV"},{"t":17.53,"v":86,"s":"2IMHBLV"},{"t":17.54,"v":86,"s":"2IMHBLV"},{"t":17.55,"v":86,"s":"2IMHBLV"},{"t":17.56,"v":86,"s":"2IMHBLV"},{"t":17.57,"v":86,"s":"2IMHBLV"},{"t":17.58,"v":86,"s":"2IMHBLV"},{"t":17.59,"v":86,"s":"2IMHBLV"},{"t":17.60,"v":86,"s":"2IMHBLV"},{"t":17.61,"v":86,"s":"2IMHBLV"},{"t":17.62,"v":86,"s":"2IMHBLV"},{"t":17.63,"v":86,"s":"2IMHBLV"},{"t":17.64,"v":86,"s":"2IMHBLV"},{"t":17.65,"v":86,"s":"2IMHBLV"},{"t":17.66,"v":86,"s":"2IMHBLV"},{"t":17.67,"v":86,"s":"2IMHBLV"},{"t":17.68,"v":86,"s":"2IMHBLV"},{"t":17.69,"v":86,"s":"2IMHBLV"},{"t":17.70,"v":86,"s":"2IMHBLV"},{"t":17.71,"v":86,"s":"2IMHBLV"},{"t":17.72,"v":86,"s":"2IMHBLV"},{"t":17.73,"v":86,"s":"2IMHBLV"},{"t":17.74,"v":86,"s":"2IMHBLV"},{"t":17.75,"v":86,"s":"2IMHBLV"},{"t":17.76,"v":86,"s":"2IMHBLV"},{"t":17.77,"v":86,"s":"2IMHBLV"},{"t":17.78,"v":86,"s":"2IMHBLV"},{"t":17.79,"v":86,"s":"2IMHBLV"},{"t":17.80,"v":86,"s":"2IMHBLV"},{"t":17.81,"v":86,"s":"2IMHBLV"},{"t":17.82,"v":86,"s":"2IMHBLV"},{"t":17.83,"v":86,"s":"2IMHBLV"},{"t":17.84,"v":86,"s":"2IMHBLV"},{"t":17.85,"v":86,"s":"2IMHBLV"},{"t":17.86,"v":86,"s":"2IMHBLV"},{"t":17.87,"v":86,"s":"2IMHBLV"},{"t":17.88,"v":86,"s":"2IMHBLV"},{"t":17.883,"v":79,"s":"2IMHBLV"},{"t":17.89,"v":86,"s":"2IMHBLV"},{"t":17.90,"v":86,"s":"2IMHBLV"},{"t":17.91,"v":86,"s":"2IMHBLV"},{"t":17.92,"v":86,"s":"2IMHBLV"},{"t":17.93,"v":86,"s":"2IMHBLV"},{"t":17.94,"v":86,"s":"2IMHBLV"},{"t":17.95,"v":86,"s":"2IMHBLV"},{"t":17.96,"v":86,"s":"2IMHBLV"},{"t":17.965,"v":79,"s":"2IMHBLV"},{"t":17.97,"v":86,"s":"2IMHBLV"},{"t":17.98,"v":86,"s":"2IMHBLV"},{"t":17.99,"v":86,"s":"2IMHBLV"},{"t":18.00,"v":86,"s":"2IMHBLV"},{"t":18.003,"v":79,"s":"2IMHBLV"},{"t":18.01,"v":86,"s":"2IMHBLV"},{"t":18.02,"v":86,"s":"2IMHBLV"},{"t":18.03,"v":86,"s":"2IMHBLV"},{"t":18.04,"v":86,"s":"2IMHBLV"},{"t":18.05,"v":86,"s":"2IMHBLV"},{"t":18.06,"v":86,"s":"2IMHBLV"},{"t":18.07,"v":86,"s":"2IMHBLV"},{"t":18.075,"v":255,"s":"2IMHBLV"}]},
   "mark":{"type":"point","filled":true,"size":60,"opacity":1},
   "encoding":{"x":{"field":"t","type":"quantitative","axis":null},
    "y":{"field":"v","type":"quantitative","scale":{"domain":[0,266],"nice":false,"zero":false},"axis":{"title":"HV Monitor","values":[0,50,100,150,200,250]}},
    "color":{"field":"s","type":"nominal","title":null,"scale":{"domain":["2SPHBLV","2SPHVLV","2IMHVLV","2IMHBLV"],"range":["#1f77b4","#ff7f0e","#2ca02c","#d62728"]},"legend":{"symbolType":"circle","symbolSize":60,"symbolStrokeWidth":0}}}}
 ]
},
{
 "width":1688,"height":670,
 "layer":[
  {"data":{"name":"shade"},"mark":{"type":"rect","fill":"#e05050","opacity":0.08},
   "encoding":{"x":{"field":"a","type":"quantitative","scale":{"domain":[15.99,19.2165],"nice":false,"zero":false},
     "axis":{"values":[16,17,18,19],"labels":false,"tickSize":16,"title":null}},
    "x2":{"field":"b"}}},
  {"data":{"name":"gh"},"mark":{"type":"rule","color":"#b0b0b0","strokeWidth":1.5},"encoding":{"x":{"field":"a","type":"quantitative","axis":null}}},
  {"data":{"name":"gq"},"mark":{"type":"rule","color":"#b0b0b0","strokeWidth":1.5,"strokeDash":[6,4]},"encoding":{"x":{"field":"a","type":"quantitative","axis":null}}},
  {"data":{"name":"vl"},"mark":{"type":"rule","color":"black","strokeWidth":1.5},
   "encoding":{"x":{"field":"a","type":"quantitative","axis":null}}},
  {"data":{"values":[
    {"t":17.444,"v":-5,"s":"2SPINATM"},{"t":17.445,"v":3.25,"s":"2SPINATM"},{"t":17.878,"v":-5,"s":"2SPINATM"},{"t":17.884,"v":3.25,"s":"2SPINATM"},{"t":17.89,"v":-5,"s":"2SPINATM"},{"t":17.896,"v":3.25,"s":"2SPINATM"},{"t":17.902,"v":-5,"s":"2SPINATM"},{"t":17.908,"v":3.25,"s":"2SPINATM"},{"t":17.914,"v":-5,"s":"2SPINATM"},{"t":17.92,"v":3.25,"s":"2SPINATM"},{"t":17.926,"v":-5,"s":"2SPINATM"},{"t":17.932,"v":3.25,"s":"2SPINATM"},{"t":17.938,"v":-5,"s":"2SPINATM"},{"t":17.944,"v":3.25,"s":"2SPINATM"},{"t":17.95,"v":-5,"s":"2SPINATM"},{"t":17.956,"v":3.25,"s":"2SPINATM"},{"t":17.962,"v":-5,"s":"2SPINATM"},{"t":17.968,"v":3.25,"s":"2SPINATM"},{"t":17.974,"v":-5,"s":"2SPINATM"},{"t":17.98,"v":3.25,"s":"2SPINATM"},{"t":17.986,"v":-5,"s":"2SPINATM"},{"t":17.992,"v":3.25,"s":"2SPINATM"},{"t":17.998,"v":-5,"s":"2SPINATM"},{"t":18.004,"v":3.25,"s":"2SPINATM"},{"t":18.04,"v":-5,"s":"2SPINATM"},{"t":18.046,"v":3.25,"s":"2SPINATM"},{"t":18.07,"v":3.25,"s":"2SPINATM"},
    {"t":17.444,"v":-5,"s":"2SPHVATM"},{"t":17.445,"v":15.5,"s":"2SPHVATM"},{"t":17.878,"v":10.3,"s":"2SPHVATM"},{"t":17.884,"v":15.5,"s":"2SPHVATM"},{"t":17.89,"v":10.5,"s":"2SPHVATM"},{"t":17.896,"v":15.5,"s":"2SPHVATM"},{"t":17.902,"v":10.5,"s":"2SPHVATM"},{"t":17.908,"v":15.5,"s":"2SPHVATM"},{"t":17.914,"v":10.5,"s":"2SPHVATM"},{"t":17.92,"v":15.5,"s":"2SPHVATM"},{"t":17.926,"v":10.5,"s":"2SPHVATM"},{"t":17.932,"v":15.5,"s":"2SPHVATM"},{"t":17.938,"v":10.5,"s":"2SPHVATM"},{"t":17.944,"v":15.5,"s":"2SPHVATM"},{"t":17.95,"v":10.5,"s":"2SPHVATM"},{"t":17.956,"v":15.5,"s":"2SPHVATM"},{"t":17.962,"v":10.5,"s":"2SPHVATM"},{"t":17.968,"v":15.5,"s":"2SPHVATM"},{"t":17.974,"v":10.5,"s":"2SPHVATM"},{"t":17.98,"v":15.5,"s":"2SPHVATM"},{"t":17.986,"v":10.5,"s":"2SPHVATM"},{"t":17.992,"v":15.5,"s":"2SPHVATM"},{"t":17.998,"v":10.5,"s":"2SPHVATM"},{"t":18.004,"v":15.5,"s":"2SPHVATM"},{"t":18.01,"v":10.5,"s":"2SPHVATM"},{"t":18.016,"v":15.5,"s":"2SPHVATM"},{"t":18.022,"v":10.5,"s":"2SPHVATM"},{"t":18.028,"v":15.5,"s":"2SPHVATM"},{"t":18.034,"v":10.5,"s":"2SPHVATM"},{"t":18.04,"v":15.5,"s":"2SPHVATM"},{"t":18.046,"v":10.5,"s":"2SPHVATM"},{"t":18.052,"v":15.6,"s":"2SPHVATM"},{"t":18.07,"v":15.6,"s":"2SPHVATM"},
    {"t":17.444,"v":-5,"s":"2IMINATM"},{"t":17.445,"v":0.65,"s":"2IMINATM"},{"t":17.83,"v":0.9,"s":"2IMINATM"},{"t":17.835,"v":1.1,"s":"2IMINATM"},{"t":17.878,"v":3.3,"s":"2IMINATM"},{"t":17.884,"v":1.1,"s":"2IMINATM"},{"t":17.89,"v":3.3,"s":"2IMINATM"},{"t":17.896,"v":1.1,"s":"2IMINATM"},{"t":17.902,"v":3.3,"s":"2IMINATM"},{"t":17.908,"v":1.1,"s":"2IMINATM"},{"t":17.914,"v":3.3,"s":"2IMINATM"},{"t":17.92,"v":1.1,"s":"2IMINATM"},{"t":17.926,"v":3.3,"s":"2IMINATM"},{"t":17.932,"v":1.1,"s":"2IMINATM"},{"t":17.938,"v":3.3,"s":"2IMINATM"},{"t":17.944,"v":1.1,"s":"2IMINATM"},{"t":17.95,"v":3.3,"s":"2IMINATM"},{"t":17.956,"v":1.1,"s":"2IMINATM"},{"t":17.962,"v":3.3,"s":"2IMINATM"},{"t":17.968,"v":1.1,"s":"2IMINATM"},{"t":17.974,"v":3.3,"s":"2IMINATM"},{"t":17.98,"v":1.1,"s":"2IMINATM"},{"t":17.986,"v":3.3,"s":"2IMINATM"},{"t":17.992,"v":1.1,"s":"2IMINATM"},{"t":17.998,"v":3.3,"s":"2IMINATM"},{"t":18.004,"v":1.1,"s":"2IMINATM"},{"t":18.04,"v":3.3,"s":"2IMINATM"},{"t":18.046,"v":1.1,"s":"2IMINATM"},{"t":18.07,"v":1.1,"s":"2IMINATM"},
    {"t":17.444,"v":-5,"s":"2IMHVATM"},{"t":17.445,"v":15.0,"s":"2IMHVATM"},{"t":17.603,"v":15.25,"s":"2IMHVATM"},{"t":17.72,"v":15.5,"s":"2IMHVATM"},{"t":17.83,"v":15.8,"s":"2IMHVATM"},{"t":17.944,"v":16.1,"s":"2IMHVATM"},{"t":17.95,"v":15.8,"s":"2IMHVATM"},{"t":17.956,"v":16.1,"s":"2IMHVATM"},{"t":17.965,"v":15.8,"s":"2IMHVATM"},{"t":17.972,"v":16.1,"s":"2IMHVATM"},{"t":17.985,"v":15.8,"s":"2IMHVATM"},{"t":17.992,"v":16.1,"s":"2IMHVATM"},{"t":18.0,"v":15.8,"s":"2IMHVATM"},{"t":18.006,"v":16.1,"s":"2IMHVATM"},{"t":18.075,"v":100,"s":"2IMHVATM"},{"t":18.077,"v":-5,"s":"2IMHVATM"}]},
   "mark":{"type":"line","interpolate":"step-after","strokeWidth":6,"clip":true},
   "encoding":{"x":{"field":"t","type":"quantitative","axis":null},
    "y":{"field":"v","type":"quantitative","scale":{"domain":[-0.86,17.3],"nice":false,"zero":false},"axis":{"title":"Detector Temp","values":[0,2.5,5,7.5,10,12.5,15],"format":".1f"}},
    "color":{"field":"s","type":"nominal","title":null,"scale":{"domain":["2SPINATM","2SPHVATM","2IMINATM","2IMHVATM"],"range":["#1f77b4","#ff7f0e","#2ca02c","#d62728"]}},
    "strokeWidth":{"condition":{"test":"datum.s=='2IMHVATM'","value":9},"value":6}}}
 ]
},
{
 "width":1688,"height":670,
 "layer":[
  {"data":{"name":"shade"},"mark":{"type":"rect","fill":"#e05050","opacity":0.08},
   "encoding":{"x":{"field":"a","type":"quantitative","scale":{"domain":[15.99,19.2165],"nice":false,"zero":false},
     "axis":{"values":[16,16.25,16.5,16.75,17,17.25,17.5,17.75,18,18.25,18.5,18.75,19],"labels":true,"labelExpr":"datum.value%1==0 ? floor(datum.value)+'h' : toString(round((datum.value%1)*60))","labelFontSize":{"condition":{"test":"datum.value%1==0","value":26},"value":16},"tickSize":{"condition":{"test":"datum.value%1==0","value":16},"value":8},"title":"2024-01-21 (021)","titleFontSize":28,"titlePadding":4}},
    "x2":{"field":"b"}}},
  {"data":{"name":"gh"},"mark":{"type":"rule","color":"#b0b0b0","strokeWidth":1.5},"encoding":{"x":{"field":"a","type":"quantitative","axis":null}}},
  {"data":{"name":"gq"},"mark":{"type":"rule","color":"#b0b0b0","strokeWidth":1.5,"strokeDash":[6,4]},"encoding":{"x":{"field":"a","type":"quantitative","axis":null}}},
  {"data":{"name":"vl"},"mark":{"type":"rule","color":"black","strokeWidth":1.5},
   "encoding":{"x":{"field":"a","type":"quantitative","axis":null}}},
  {"data":{"values":[
    {"t":16.14,"v":-8.4,"s":"2FHTRMZT"},{"t":16.212,"v":-8.0,"s":"2FHTRMZT"},{"t":17.66,"v":-7.6,"s":"2FHTRMZT"},{"t":17.81,"v":-7.2,"s":"2FHTRMZT"},{"t":17.94,"v":-6.8,"s":"2FHTRMZT"},{"t":18.07,"v":-6.4,"s":"2FHTRMZT"},{"t":19.1,"v":-6.4,"s":"2FHTRMZT"},
    {"t":16.14,"v":-10.07,"s":"2FRADPYT"},{"t":16.925,"v":-9.65,"s":"2FRADPYT"},{"t":17.12,"v":-10.07,"s":"2FRADPYT"},{"t":17.616,"v":-9.65,"s":"2FRADPYT"},{"t":17.76,"v":-9.25,"s":"2FRADPYT"},{"t":17.9,"v":-8.82,"s":"2FRADPYT"},{"t":18.044,"v":-8.42,"s":"2FRADPYT"},{"t":18.99,"v":-8.82,"s":"2FRADPYT"},{"t":19.1,"v":-8.82,"s":"2FRADPYT"},
    {"t":17.444,"v":-20,"s":"2FEPRATM"},{"t":17.445,"v":-6.6,"s":"2FEPRATM"},{"t":17.506,"v":-6.2,"s":"2FEPRATM"},{"t":17.55,"v":-5.8,"s":"2FEPRATM"},{"t":17.594,"v":-5.4,"s":"2FEPRATM"},{"t":17.652,"v":-5.0,"s":"2FEPRATM"},{"t":17.737,"v":-4.6,"s":"2FEPRATM"},{"t":17.83,"v":-4.2,"s":"2FEPRATM"},{"t":17.878,"v":-4.6,"s":"2FEPRATM"},{"t":17.886,"v":-4.2,"s":"2FEPRATM"},{"t":17.894,"v":-4.6,"s":"2FEPRATM"},{"t":17.902,"v":-3.5,"s":"2FEPRATM"},{"t":17.91,"v":-4.6,"s":"2FEPRATM"},{"t":17.918,"v":-4.2,"s":"2FEPRATM"},{"t":17.926,"v":-4.6,"s":"2FEPRATM"},{"t":17.934,"v":-3.5,"s":"2FEPRATM"},{"t":17.942,"v":-4.6,"s":"2FEPRATM"},{"t":17.95,"v":-4.2,"s":"2FEPRATM"},{"t":17.958,"v":-4.6,"s":"2FEPRATM"},{"t":17.966,"v":-3.5,"s":"2FEPRATM"},{"t":17.974,"v":-4.6,"s":"2FEPRATM"},{"t":17.982,"v":-4.2,"s":"2FEPRATM"},{"t":17.99,"v":-4.6,"s":"2FEPRATM"},{"t":17.998,"v":-3.5,"s":"2FEPRATM"},{"t":18.006,"v":-4.6,"s":"2FEPRATM"},{"t":18.014,"v":-4.2,"s":"2FEPRATM"},{"t":18.022,"v":-4.6,"s":"2FEPRATM"},{"t":18.03,"v":-3.5,"s":"2FEPRATM"},{"t":18.038,"v":-4.6,"s":"2FEPRATM"},{"t":18.046,"v":-3.8,"s":"2FEPRATM"},{"t":18.06,"v":-3.4,"s":"2FEPRATM"},{"t":18.07,"v":-3.4,"s":"2FEPRATM"},
    {"t":17.444,"v":-20,"s":"2FE00ATM"},{"t":17.445,"v":-6.0,"s":"2FE00ATM"},{"t":17.543,"v":-5.6,"s":"2FE00ATM"},{"t":17.664,"v":-5.3,"s":"2FE00ATM"},{"t":17.69,"v":-5.65,"s":"2FE00ATM"},{"t":17.695,"v":-5.3,"s":"2FE00ATM"},{"t":17.75,"v":-4.9,"s":"2FE00ATM"},{"t":17.86,"v":-4.5,"s":"2FE00ATM"},{"t":17.878,"v":0,"s":"2FE00ATM"},{"t":17.884,"v":-4.5,"s":"2FE00ATM"},{"t":17.89,"v":0,"s":"2FE00ATM"},{"t":17.896,"v":-4.4,"s":"2FE00ATM"},{"t":17.902,"v":0,"s":"2FE00ATM"},{"t":17.908,"v":-4.5,"s":"2FE00ATM"},{"t":17.914,"v":0,"s":"2FE00ATM"},{"t":17.92,"v":-4.3,"s":"2FE00ATM"},{"t":17.926,"v":0,"s":"2FE00ATM"},{"t":17.932,"v":-4.5,"s":"2FE00ATM"},{"t":17.938,"v":0,"s":"2FE00ATM"},{"t":17.944,"v":-4.2,"s":"2FE00ATM"},{"t":17.95,"v":0,"s":"2FE00ATM"},{"t":17.956,"v":-4.5,"s":"2FE00ATM"},{"t":17.962,"v":0,"s":"2FE00ATM"},{"t":17.968,"v":-4.2,"s":"2FE00ATM"},{"t":17.974,"v":0,"s":"2FE00ATM"},{"t":17.98,"v":-4.4,"s":"2FE00ATM"},{"t":17.986,"v":0,"s":"2FE00ATM"},{"t":17.992,"v":-4.2,"s":"2FE00ATM"},{"t":17.998,"v":0,"s":"2FE00ATM"},{"t":18.004,"v":-4.3,"s":"2FE00ATM"},{"t":18.01,"v":0,"s":"2FE00ATM"},{"t":18.016,"v":-4.2,"s":"2FE00ATM"},{"t":18.022,"v":0,"s":"2FE00ATM"},{"t":18.028,"v":-4.2,"s":"2FE00ATM"},{"t":18.034,"v":0,"s":"2FE00ATM"},{"t":18.04,"v":-4.2,"s":"2FE00ATM"},{"t":18.046,"v":0,"s":"2FE00ATM"},{"t":18.052,"v":-3.8,"s":"2FE00ATM"},{"t":18.075,"v":0,"s":"2FE00ATM"},{"t":18.077,"v":-20,"s":"2FE00ATM"}]},
   "mark":{"type":"line","interpolate":"step-after","strokeWidth":6,"clip":true},
   "encoding":{"x":{"field":"t","type":"quantitative","axis":null},
    "y":{"field":"v","type":"quantitative","scale":{"domain":[-11.57,-2.77],"nice":false,"zero":false},"axis":{"title":"FEA Temp","values":[-11,-10,-9,-8,-7,-6,-5,-4,-3]}},
    "color":{"field":"s","type":"nominal","title":null,"scale":{"domain":["2FHTRMZT","2FRADPYT","2FEPRATM","2FE00ATM"],"range":["#1f77b4","#ff7f0e","#2ca02c","#d62728"]}},
    "strokeWidth":{"condition":{"test":"datum.s=='2FE00ATM'","value":9},"value":6}}}
 ]
}
]
}
